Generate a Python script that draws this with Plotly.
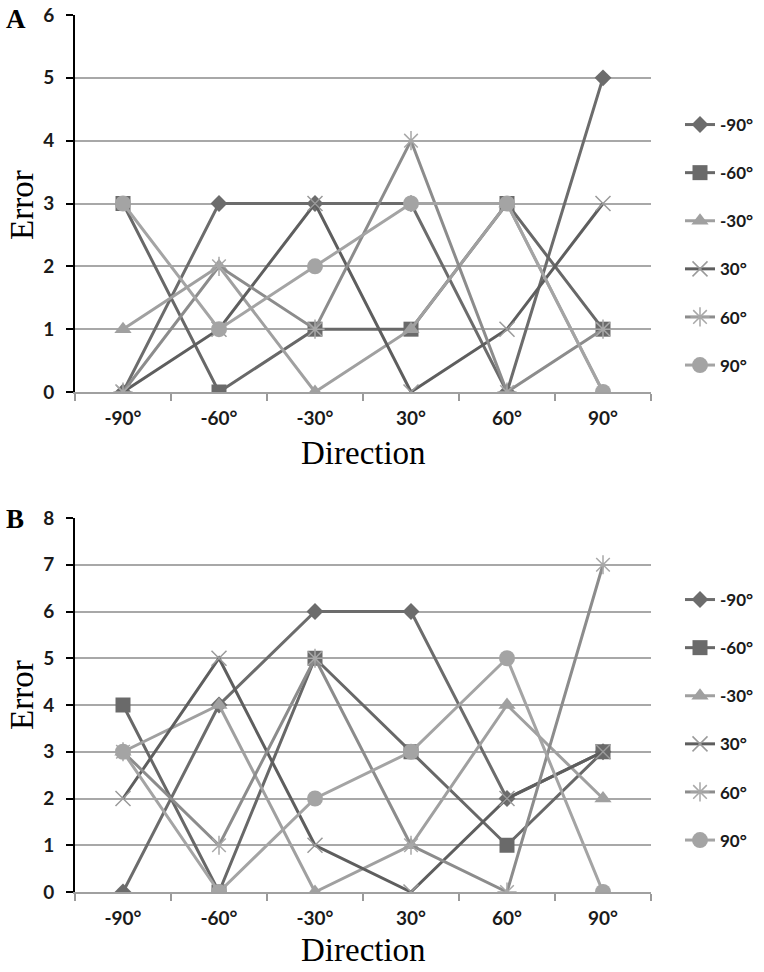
import plotly.graph_objects as go

# ---- data ----
directions = ["-90°", "-60°", "-30°", "30°", "60°", "90°"]
series_names = ["-90°", "-60°", "-30°", "30°", "60°", "90°"]

# Panel A
a_m90 = [0, 3, 3, 3, 0, 5]
a_m60 = [3, 0, 1, 1, 3, 1]
a_m30 = [1, 2, 0, 1, 3, 0]
a_p30 = [0, 1, 3, 0, 1, 3]
a_p60 = [0, 2, 1, 4, 0, 1]
a_p90 = [3, 1, 2, 3, 3, 0]

# Panel B
b_m90 = [0, 4, 6, 6, 2, 3]
b_m60 = [4, 0, 5, 3, 1, 3]
b_m30 = [3, 4, 0, 1, 4, 2]
b_p30 = [2, 5, 1, 0, 2, 3]
b_p60 = [3, 1, 5, 1, 0, 7]
b_p90 = [3, 0, 2, 3, 5, 0]

y_ticks_a = [0, 1, 2, 3, 4, 5, 6]
y_ticks_b = [0, 1, 2, 3, 4, 5, 6, 7, 8]

# ---- styles ----
styles = [
    dict(line="#6c6c6c", symbol="diamond", size=13, mcolor="#6c6c6c", mline=0),
    dict(line="#686868", symbol="square", size=15, mcolor="#6a6a6a", mline=0),
    dict(line="#a0a0a0", symbol="triangle-up", size=15, mcolor="#a0a0a0", mline=0),
    dict(line="#5e5e5e", symbol="x-thin", size=15, mcolor="#9a9a9a", mline=1.5),
    dict(line="#8c8c8c", symbol="asterisk", size=16, mcolor="#a8a8a8", mline=1.5),
    dict(line="#a4a4a4", symbol="circle", size=16, mcolor="#a4a4a4", mline=0),
]

fig = go.Figure()

panels = [
    ("x", "y", "legend", [a_m90, a_m60, a_m30, a_p30, a_p60, a_p90]),
    ("x2", "y2", "legend2", [b_m90, b_m60, b_m30, b_p30, b_p60, b_p90]),
]

for xa, ya, lg, data in panels:
    for name, vals, st in zip(series_names, data, styles):
        marker = dict(symbol=st["symbol"], size=st["size"], color=st["mcolor"])
        if st["mline"]:
            marker["line"] = dict(color=st["mcolor"], width=st["mline"])
        else:
            marker["line"] = dict(width=0)
        fig.add_trace(go.Scatter(
            x=directions, y=vals, name=name, mode="lines+markers",
            line=dict(color=st["line"], width=3),
            marker=marker, xaxis=xa, yaxis=ya, legend=lg,
            legendgroup=lg + name,
        ))

W, H = 764, 972


def px(xp):
    return xp / W


def py(yp):
    return 1 - yp / H


x0, x1 = px(75), px(651)
ya_dom = [py(392), py(15)]
yb_dom = [py(892), py(518)]

tickfont = dict(family="Lato, Open Sans, sans-serif", size=19, color="#1a1a1a", weight="bold")

xcommon = dict(
    type="category", domain=[x0, x1], range=[-0.5, 5.5],
    tickson="boundaries", ticks="outside", ticklen=7, tickwidth=1.5,
    tickcolor="#9a9a9a", showline=True, linecolor="#a0a0a0", linewidth=2,
    showgrid=False, zeroline=False, tickfont=tickfont, fixedrange=True,
    ticklabelstandoff=8,
)
ycommon = dict(
    showgrid=True, gridcolor="#a8a8a8", gridwidth=2, showline=True,
    linecolor="#000000", linewidth=2, ticks="outside", ticklen=7,
    tickwidth=2, tickcolor="#000000", zeroline=False, tickfont=tickfont,
    ticklabelstandoff=8,
)

legfont = dict(family="Lato, Open Sans, sans-serif", size=17, color="#1a1a1a", weight="bold")

fig.update_layout(
    width=W, height=H, margin=dict(l=0, r=0, t=0, b=0, autoexpand=False),
    paper_bgcolor="white", plot_bgcolor="white",
    xaxis=dict(anchor="y", **xcommon),
    xaxis2=dict(anchor="y2", **xcommon),
    yaxis=dict(anchor="x", domain=ya_dom, range=[0, 6], tickvals=y_ticks_a, **ycommon),
    yaxis2=dict(anchor="x2", domain=yb_dom, range=[0, 8], tickvals=y_ticks_b, **ycommon),
    legend=dict(x=px(680), y=py(107), xanchor="left", yanchor="top",
                font=legfont, itemwidth=30, tracegroupgap=23, bgcolor="rgba(0,0,0,0)"),
    legend2=dict(x=px(680), y=py(582), xanchor="left", yanchor="top",
                 font=legfont, itemwidth=30, tracegroupgap=23, bgcolor="rgba(0,0,0,0)"),
    showlegend=True,
)

serif = "Liberation Serif, Times New Roman, serif"
ann = [
    dict(text="<b>A</b>", x=px(4), y=py(19), font=dict(family=serif, size=27, color="black")),
    dict(text="<b>B</b>", x=px(4), y=py(519), font=dict(family=serif, size=27, color="black")),
    dict(text="Error", x=px(22), y=py(205), textangle=-90, font=dict(family=serif, size=33, color="black"), xanchor="center"),
    dict(text="Error", x=px(22), y=py(695), textangle=-90, font=dict(family=serif, size=33, color="black"), xanchor="center"),
    dict(text="Direction", x=px(363), y=py(453), font=dict(family=serif, size=33, color="black"), xanchor="center"),
    dict(text="Direction", x=px(363), y=py(950), font=dict(family=serif, size=33, color="black"), xanchor="center"),
]
for a in ann:
    a.setdefault("xanchor", "left")
    fig.add_annotation(xref="paper", yref="paper", showarrow=False, yanchor="middle", **a)

fig.write_html(
    "out.html",
    config={"displayModeBar": False},
    post_script="document.body.style.margin='0';document.body.style.overflow='hidden';",
)
